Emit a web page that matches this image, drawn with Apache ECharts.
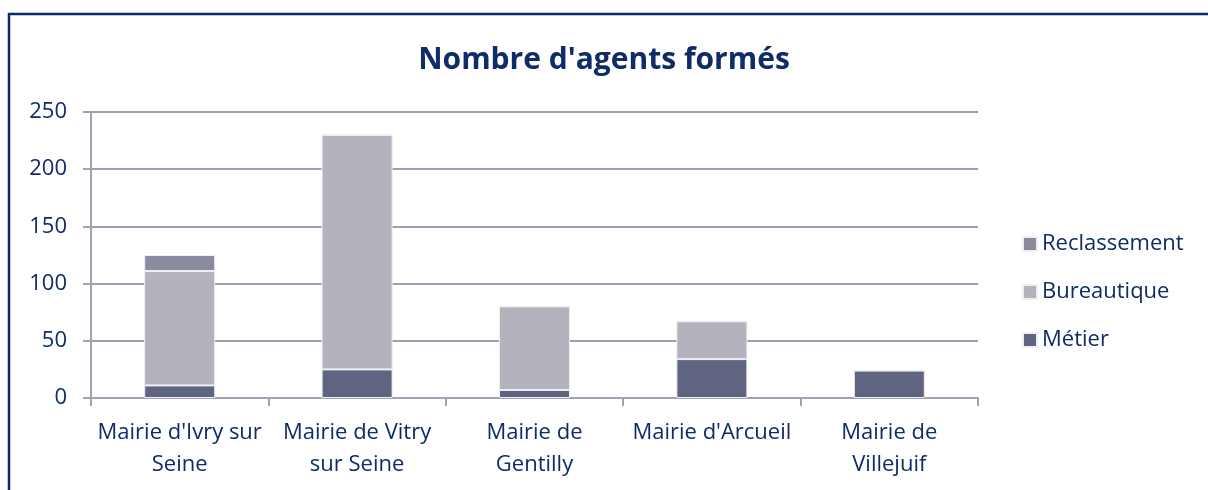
<!DOCTYPE html>
<html>
<head>
<meta charset="utf-8">
<script src="https://cdn.jsdelivr.net/npm/echarts@6/dist/echarts.min.js"></script>
<style>
  html, body { margin: 0; padding: 0; background: #fff; }
  #chart { width: 1208px; height: 490px; }
</style>
</head>
<body>
<div id="chart"></div>
<script>
const categories = [
  "Mairie d'Ivry sur\nSeine",
  'Mairie de Vitry\nsur Seine',
  'Mairie de\nGentilly',
  "Mairie d'Arcueil",
  'Mairie de\nVillejuif'
];
const metier = [11, 25, 7, 34, 24];
const bureautique = [100, 205, 73, 33, 0];
const reclassement = [14, 0, 0, 0, 0];

const textColor = '#0f2b68';
const fontFamily = '"Open Sans", "Noto Sans", sans-serif';

const chart = echarts.init(document.getElementById('chart'));

const option = {
  animation: false,
  textStyle: { fontFamily: fontFamily },
  title: {
    text: "Nombre d'agents formés",
    left: 'center',
    top: 40,
    textStyle: { color: textColor, fontSize: 30, fontWeight: 'bold', fontFamily: fontFamily }
  },
  graphic: [{
    type: 'rect',
    shape: { x: 9, y: 14, width: 1400, height: 700 },
    style: { fill: 'none', stroke: '#0e2a6a', lineWidth: 2.5 },
    silent: true
  }],
  legend: {
    orient: 'vertical',
    left: 1017,
    top: 228,
    itemGap: 26,
    itemWidth: 14,
    itemHeight: 14,
    icon: 'rect',
    data: ['Reclassement', 'Bureautique', 'Métier'],
    textStyle: { color: textColor, fontSize: 22 }
  },
  grid: { left: 91, right: 230, top: 112, bottom: 92, containLabel: false },
  xAxis: {
    type: 'category',
    data: categories,
    axisLine: { lineStyle: { color: '#a0a2b4', width: 2 } },
    axisTick: { show: true, length: 8, lineStyle: { color: '#a0a2b4', width: 2 } },
    axisLabel: { color: textColor, fontSize: 22, lineHeight: 32, margin: 19, interval: 0 }
  },
  yAxis: {
    type: 'value',
    min: 0,
    max: 250,
    interval: 50,
    axisLine: { show: true, lineStyle: { color: '#a0a2b4', width: 2 } },
    axisTick: { show: true, length: 8, lineStyle: { color: '#a0a2b4', width: 2 } },
    splitLine: { lineStyle: { color: '#9c9eb3', width: 2 } },
    axisLabel: { color: textColor, fontSize: 22, margin: 24 }
  },
  series: [
    {
      name: 'Métier',
      type: 'bar',
      stack: 'total',
      barWidth: 71,
      data: metier,
      itemStyle: { color: '#5f6480', borderColor: '#eeeef3', borderWidth: 1 }
    },
    {
      name: 'Bureautique',
      type: 'bar',
      stack: 'total',
      barWidth: 71,
      data: bureautique,
      itemStyle: { color: '#b3b3bd', borderColor: '#eeeef3', borderWidth: 1 }
    },
    {
      name: 'Reclassement',
      type: 'bar',
      stack: 'total',
      barWidth: 71,
      data: reclassement,
      itemStyle: { color: '#8a8b9e', borderColor: '#eeeef3', borderWidth: 1 }
    }
  ]
};

chart.setOption(option);
</script>
</body>
</html>
